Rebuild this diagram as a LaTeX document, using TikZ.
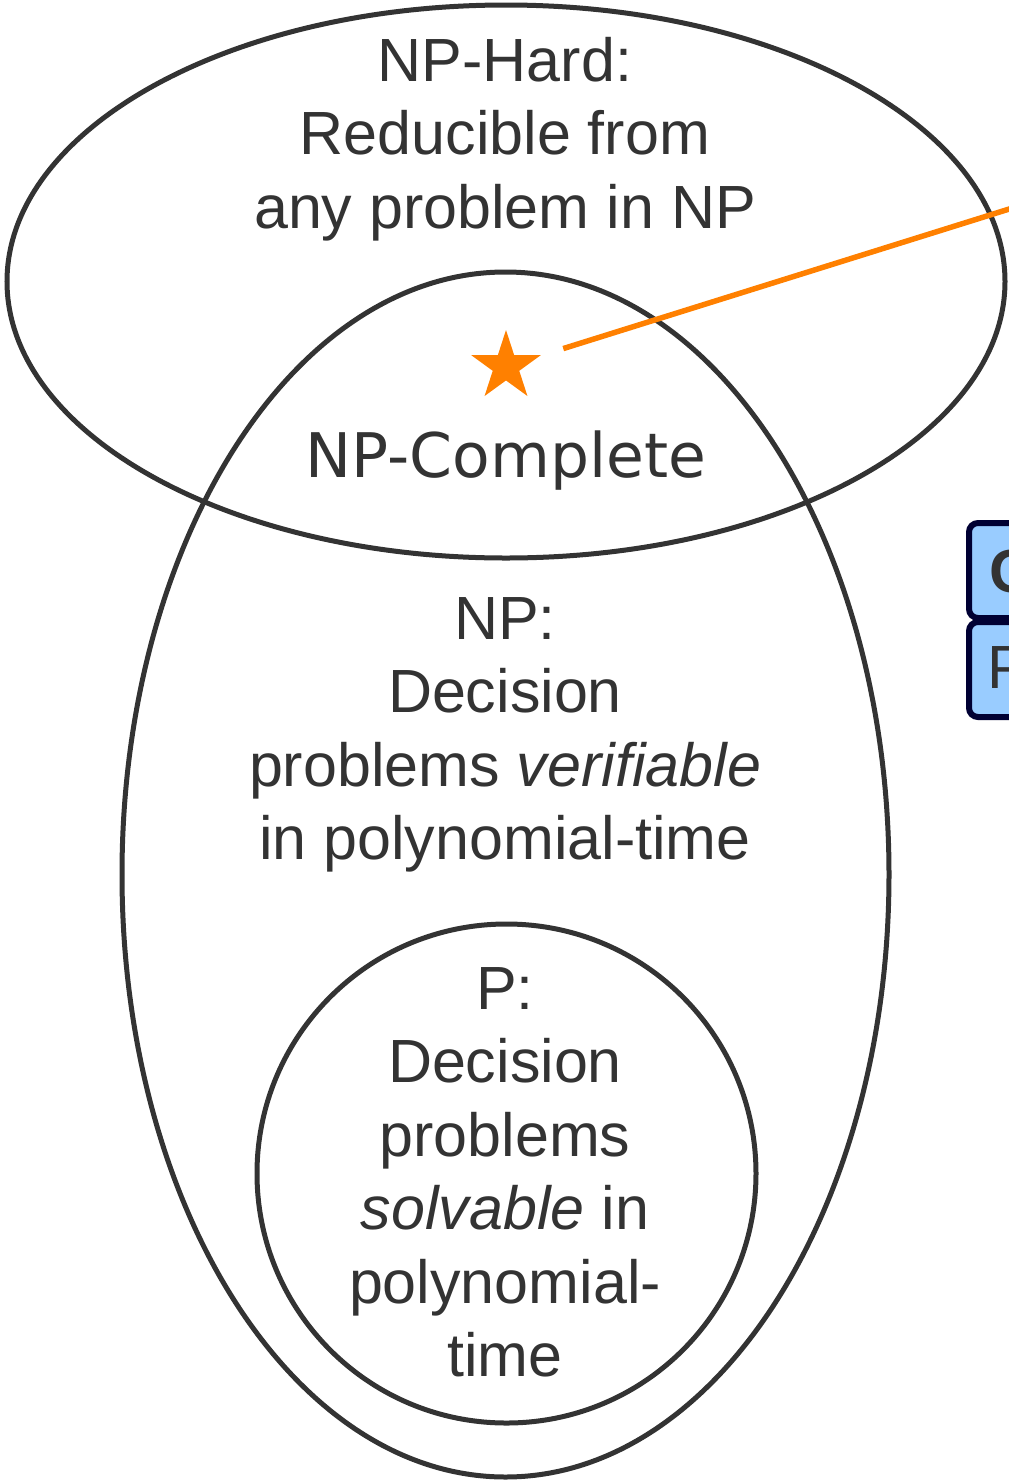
\documentclass[tikz,border=0pt]{standalone}
\usepackage{fontspec}
\setmainfont{Liberation Sans}
\newfontfamily\dejavu{DejaVu Sans}
\usetikzlibrary{shapes.geometric}
\definecolor{ink}{HTML}{333333}
\definecolor{accent}{HTML}{FF8000}
\definecolor{boxfill}{HTML}{99CCFF}
\definecolor{boxline}{HTML}{000033}
\begin{document}
\begin{tikzpicture}[x=1pt,y=-1pt,
  setline/.style={draw=ink, line width=5pt},
  txt/.style={text=ink, font=\fontsize{61}{73.5}\selectfont, align=center, inner sep=0pt},
  keybox/.style={draw=boxline, fill=boxfill, line width=6pt, rounded corners=9pt,
    minimum width=200pt, minimum height=95pt, anchor=north west, inner sep=0pt}]
\useasboundingbox (0,0) rectangle (1009,1481);
\clip (0,0) rectangle (1009,1481);

% complexity classes
\draw[setline] (506,281.5) ellipse [x radius=499pt, y radius=276.5pt];
\draw[setline] (505.5,874.5) ellipse [x radius=383.5pt, y radius=602.5pt];
\draw[setline] (506.5,1173.5) circle [radius=249.5pt];

% class descriptions
\node[txt, anchor=north] (hard) at (505,37) {NP-Hard:\\Reducible from\\any problem in NP};
\node[txt, font=\dejavu\fontsize{61.5}{73.5}\selectfont, anchor=base] (complete) at (506,477) {NP-Complete};
\node[txt, anchor=north] (np) at (505,597) {NP:\\Decision\\problems \textit{verifiable}\\in polynomial-time};
\node[txt, anchor=north] (p) at (505,967) {P:\\Decision\\problems\\\textit{solvable} in\\polynomial-\\time};

% NP-complete marker and its pointer
\node[star, star points=5, star point ratio=2.618, fill=accent, minimum size=73pt, inner sep=0pt] (marker) at (506,366.5) {};
\coordinate (far) at (1100,180.6);
\draw[accent, line width=5.5pt, shorten <=60pt] (marker.center) -- (far);

% legend boxes
\node[keybox] (boxc) at (966,520) {};
\node[keybox] (boxp) at (966,619) {};
\node[txt, font=\bfseries\fontsize{61}{73.5}\selectfont, anchor=base west] (boxctext) at (989,592) {C};
\node[txt, anchor=base west] (boxptext) at (987,688) {P};
\end{tikzpicture}
\end{document}
